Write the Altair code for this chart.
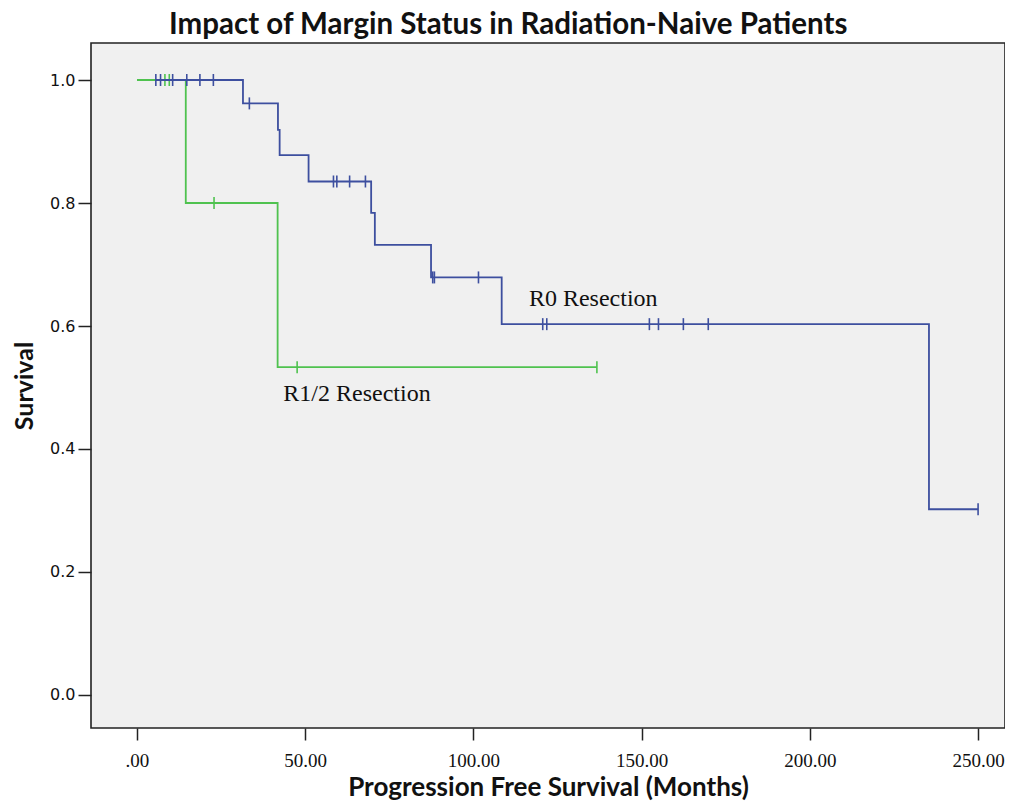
import altair as alt
import pandas as pd

# ---- data ----
r0_times = [5.6, 31.5, 41.9, 42.4, 51.0, 69.6, 70.7, 87.4, 108.4, 235.4, 250.0]
r0_surv = [1.0, 0.962, 0.919, 0.878, 0.835, 0.784, 0.732, 0.679, 0.603, 0.302, 0.302]
r0_cens_t = [5.6, 7.0, 10.6, 14.8, 18.7, 22.7, 33.4, 58.4, 59.4, 63.2, 67.9,
             87.9, 88.4, 101.5, 120.6, 121.8, 152.3, 155.0, 162.4, 169.8, 250.0]
r0_cens_s = [1.0, 1.0, 1.0, 1.0, 1.0, 1.0, 0.962, 0.835, 0.835, 0.835, 0.835,
             0.679, 0.679, 0.679, 0.603, 0.603, 0.603, 0.603, 0.603, 0.603, 0.302]

r12_times = [0.0, 14.5, 41.8, 136.7]
r12_surv = [1.0, 0.8, 0.533, 0.533]
r12_cens_t = [8.3, 9.6, 22.9, 47.6, 136.7]
r12_cens_s = [1.0, 1.0, 0.8, 0.533, 0.533]

x_ticks = [0, 50, 100, 150, 200, 250]
y_ticks = [0.0, 0.2, 0.4, 0.6, 0.8, 1.0]

labels = ["R0 Resection", "R1/2 Resection"]
label_x = [116.5, 43.5]
label_y = [0.644, 0.49]

BLUE = "#3d4f9f"
GREEN = "#4fc24f"

r0_line = pd.DataFrame({"t": r0_times, "s": r0_surv})
r12_line = pd.DataFrame({"t": r12_times, "s": r12_surv})
r0_c = pd.DataFrame({"t": r0_cens_t, "s": r0_cens_s})
r12_c = pd.DataFrame({"t": r12_cens_t, "s": r12_cens_s})
lab = pd.DataFrame({"t": label_x, "s": label_y, "txt": labels})

xs = alt.Scale(domain=[-13.67, 258.0], nice=False, zero=False)
ys = alt.Scale(domain=[-0.0537, 1.0602], nice=False, zero=False)

X = alt.X("t:Q", scale=xs, axis=alt.Axis(
    values=x_ticks, title="Progression Free Survival (Months)",
    labelExpr="datum.value == 0 ? '.00' : format(datum.value, '.2f')",
    grid=False, domain=False, tickSize=12, tickWidth=1.5, tickColor="#222",
    labelFont="Liberation Serif", labelFontSize=19, labelColor="#111", labelPadding=11,
    titleFont="Lato", titleFontSize=26, titleFontWeight="bold", titleColor="#111",
    titleY=67, titleBaseline="alphabetic"))
Y = alt.Y("s:Q", scale=ys, axis=alt.Axis(
    values=y_ticks, format=".1f", title="Survival",
    grid=False, domain=False, tickSize=13, tickWidth=1.5, tickColor="#222",
    labelFont="DejaVu Sans", labelFontSize=16, labelColor="#111", labelPadding=3,
    titleFont="Lato", titleFontSize=25, titleFontWeight="bold", titleColor="#111",
    titlePadding=12))

g_line = alt.Chart(r12_line).mark_line(interpolate="step-after", color=GREEN, strokeWidth=1.8).encode(x=X, y=Y)
g_cens = alt.Chart(r12_c).mark_tick(orient="vertical", color=GREEN, size=12, thickness=1.6, opacity=1).encode(x="t:Q", y="s:Q")
b_line = alt.Chart(r0_line).mark_line(interpolate="step-after", color=BLUE, strokeWidth=1.8).encode(x="t:Q", y="s:Q")
b_cens = alt.Chart(r0_c).mark_tick(orient="vertical", color=BLUE, size=12, thickness=1.6, opacity=1).encode(x="t:Q", y="s:Q")
txt = alt.Chart(lab).mark_text(font="Liberation Serif", fontSize=24, color="#111", align="left", baseline="middle").encode(
    x="t:Q", y="s:Q", text="txt:N")

chart = alt.layer(g_line, g_cens, b_line, b_cens, txt).properties(
    width=914, height=685,
    title=alt.TitleParams("Impact of Margin Status in Radiation-Naive Patients",
                          anchor="start", frame="group", dx=78, offset=3,
                          font="Lato", fontSize=29.5, fontWeight="bold", color="#111"),
    autosize=alt.AutoSizeParams(type="none"),
    padding={"left": 83, "top": 35, "right": 0, "bottom": 73},
).configure_view(fill="#f0f0f0", stroke="#222", strokeWidth=1.6)

chart.save("out.html", embed_options={"renderer": "svg", "actions": False})
